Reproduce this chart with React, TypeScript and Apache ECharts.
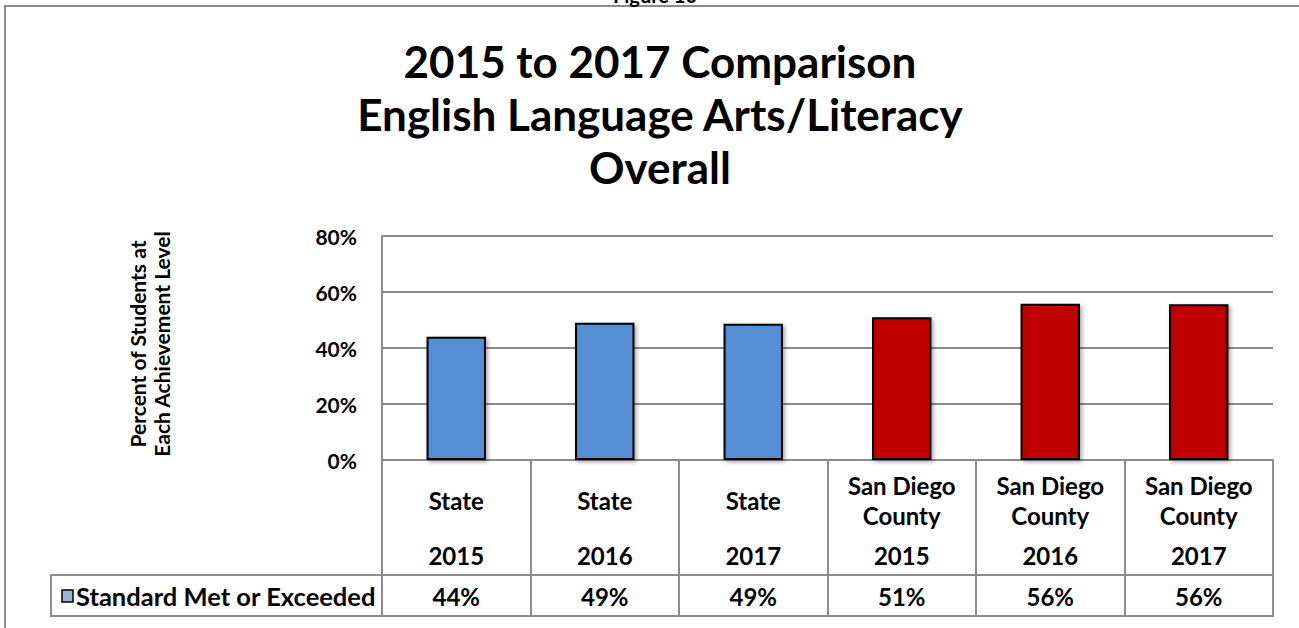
import React, { useEffect, useRef } from "react";
import * as echarts from "echarts";

const categories = ["State", "State", "State", "San Diego\nCounty", "San Diego\nCounty", "San Diego\nCounty"];
const years = ["2015", "2016", "2017", "2015", "2016", "2017"];
const values = [0.44, 0.49, 0.487, 0.51, 0.558, 0.556];
const barColors = ["#558ed5", "#558ed5", "#558ed5", "#c00000", "#c00000", "#c00000"];
const yTicks = [0, 0.2, 0.4, 0.6, 0.8];
const seriesName = "Standard Met or Exceeded";
const titleLines = ["2015 to 2017 Comparison", "English Language Arts/Literacy", "Overall"];
const yAxisTitle = ["Percent of Students at", "Each Achievement Level"];
const figureLabel = "Figure 10";

const FONT = "Lato";
const GRAY = "#8c8c8c";

export default function App() {
  const ref = useRef<HTMLDivElement>(null);
  useEffect(() => {
    if (!ref.current) return;
    const chart = echarts.init(ref.current, null, { renderer: "svg" });
    const labels = values.map((v) => Math.round(v * 100) + "%");
    const txt = { fontFamily: FONT, fontWeight: "bold" as const, color: "#000" };
    chart.setOption({
      animation: false,
      textStyle: { fontFamily: FONT },
      title: {
        text: titleLines.join("\n"),
        left: 655,
        textAlign: "center",
        top: 29,
        textStyle: { ...txt, fontSize: 44, lineHeight: 53 },
      },
      grid: { left: 382, right: 26, top: 236, bottom: 168, containLabel: false },
      yAxis: {
        type: "value",
        min: yTicks[0],
        max: yTicks[yTicks.length - 1],
        interval: 0.2,
        axisLine: { show: true, lineStyle: { color: GRAY, width: 2 } },
        axisTick: { show: false },
        splitLine: { lineStyle: { color: GRAY, width: 2 } },
        axisLabel: {
          ...txt,
          fontSize: 21,
          margin: 25,
          formatter: (v: number) => Math.round(v * 100) + "%",
        },
      },
      xAxis: [
        {
          type: "category",
          data: categories,
          position: "bottom",
          axisLine: { show: true, lineStyle: { color: GRAY, width: 2 } },
          axisTick: { show: true, length: 115, lineStyle: { color: GRAY, width: 2 } },
          axisLabel: { ...txt, fontSize: 24, margin: 40, verticalAlign: "middle", lineHeight: 30, interval: 0 },
        },
        {
          type: "category",
          data: years,
          position: "bottom",
          axisLine: { show: false },
          axisTick: { show: false },
          axisLabel: { ...txt, fontSize: 24, margin: 95, verticalAlign: "middle", interval: 0 },
        },
        {
          type: "category",
          data: labels,
          position: "bottom",
          offset: 115,
          axisLine: { show: true, lineStyle: { color: GRAY, width: 2 } },
          axisTick: { show: true, length: 41, lineStyle: { color: GRAY, width: 2 } },
          axisLabel: { ...txt, fontSize: 24, margin: 21, verticalAlign: "middle", interval: 0 },
        },
      ],
      series: [
        {
          type: "bar",
          name: seriesName,
          xAxisIndex: 0,
          barWidth: "40%",
          data: values.map((v, i) => ({
            value: v,
            itemStyle: { color: barColors[i] },
          })),
          itemStyle: {
            borderColor: "#000",
            borderWidth: 2,
            shadowColor: "rgba(0,0,0,0.35)",
            shadowBlur: 4,
            shadowOffsetX: 2,
            shadowOffsetY: 2,
          },
        },
      ],
      graphic: [
        {
          type: "rect",
          shape: { x: 5, y: 6, width: 1310, height: 640 },
          style: { fill: "none", stroke: GRAY, lineWidth: 2 },
          silent: true,
        },
        {
          type: "text",
          x: 655,
          y: 5,
          style: { text: figureLabel, ...txt, fill: "#000", fontSize: 20, align: "center", verticalAlign: "bottom" },
        },
        {
          type: "text",
          x: 149,
          y: 344,
          rotation: Math.PI / 2,
          style: {
            text: yAxisTitle.join("\n"),
            fontFamily: FONT,
            fontWeight: "bold",
            fontSize: 21,
            lineHeight: 24,
            fill: "#000",
            align: "center",
            verticalAlign: "middle",
          },
        },
        {
          type: "rect",
          shape: { x: 51, y: 575, width: 1222, height: 41 },
          style: { fill: "none", stroke: GRAY, lineWidth: 2 },
        },
        {
          type: "rect",
          shape: { x: 62, y: 590, width: 11, height: 12 },
          style: { fill: "#95b3d7", stroke: "#000", lineWidth: 1.5 },
        },
        {
          type: "text",
          x: 76,
          y: 596,
          style: { text: seriesName, ...txt, fill: "#000", fontSize: 25.5, align: "left", verticalAlign: "middle" },
        },
      ],
    });
    return () => chart.dispose();
  }, []);
  return <div ref={ref} style={{ position: "absolute", left: 0, top: 0, width: 1299, height: 628 }} />;
}
